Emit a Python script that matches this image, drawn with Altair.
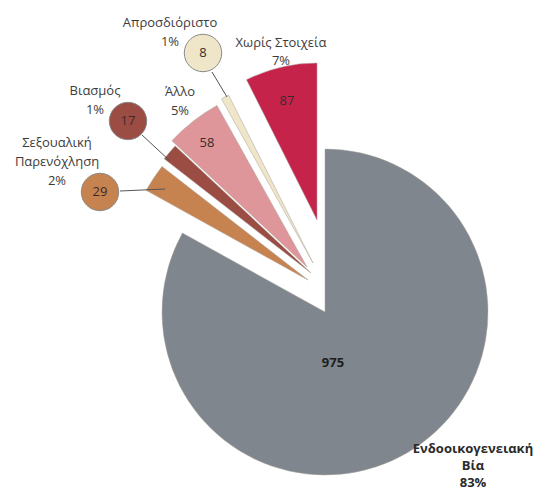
import math
import altair as alt
import pandas as pd

# ---------------- data ----------------
categories = ["Ενδοοικογενειακή Βία", "Σεξουαλική Παρενόχληση", "Βιασμός",
              "Άλλο", "Απροσδιόριστο", "Χωρίς Στοιχεία"]
counts = [975, 29, 17, 58, 8, 87]
label_names = ["Ενδοοικογενειακή\nΒία", "Σεξουαλική\nΠαρενόχληση", "Βιασμός",
               "Άλλο", "Απροσδιόριστο", "Χωρίς Στοιχεία"]

# ---------------- style / layout ----------------
colors = ["#7f868d", "#c6834f", "#9b4d43", "#df969b", "#efe5c8", "#c6234b"]
OFF = 8  # page margin
# exploded slice apex (page px) and radius per slice
tip_x = [325, 308, 311, 307, 313, 317]
tip_y = [312, 280, 273, 267, 263, 220]
radii = [163, 185, 186, 185, 188, 157]
# category/percent label: centre x and first-line y (page px)
name_x = [473, 57, 95, 180, 170, 281]
name_y = [449, 143, 91, 92, 23, 43]
# value label positions (page px); bubbles for small slices
value_x = [333, 100, 128, 207, 203, 287]
value_y = [363, 192, 121, 143, 53, 101]
bubble = [False, True, True, False, True, False]
lead_x1 = [None, 120, 142, None, 212, None]
lead_y1 = [None, 191, 135, None, 72, None]
lead_x2 = [None, 165, 170, None, 227, None]
lead_y2 = [None, 189, 161, None, 97, None]

total = sum(counts)
rows = []
acc = 0
for i, c in enumerate(categories):
    rows.append({
        "category": c,
        "count": counts[i],
        "start": acc,
        "end": acc + counts[i],
        "cx": tip_x[i] - OFF,
        "cy": tip_y[i] - OFF,
        "r": radii[i],
        "name": label_names[i] + "\n" + f"{round(counts[i] / total * 100)}%",
        "nx": name_x[i] - OFF,
        "ny": name_y[i] - OFF,
        "vx": value_x[i] - OFF,
        "vy": value_y[i] - OFF,
        "bubble": bubble[i],
        "bold": i == 0,
    })
    acc += counts[i]
df = pd.DataFrame(rows)

lead_rows = []
for i, c in enumerate(categories):
    if bubble[i]:
        lead_rows.append({"category": c, "x1": lead_x1[i] - OFF, "y1": lead_y1[i] - OFF,
                          "x2": lead_x2[i] - OFF, "y2": lead_y2[i] - OFF})
lead_df = pd.DataFrame(lead_rows)

color_scale = alt.Scale(domain=categories, range=colors)
FONT = "Open Sans"

arcs = alt.Chart(df).mark_arc(stroke="#a8a39d", strokeWidth=0.5).encode(
    theta=alt.Theta("start:Q", scale=alt.Scale(domain=[0, total], range=[0, 2 * math.pi]), stack=None),
    theta2="end:Q",
    x=alt.X("cx:Q", scale=None, axis=None),
    y=alt.Y("cy:Q", scale=None, axis=None),
    radius=alt.Radius("r:Q", scale=None),
    color=alt.Color("category:N", scale=color_scale, legend=None),
)

leaders = alt.Chart(lead_df).mark_rule(color="#555555", strokeWidth=1).encode(
    x=alt.X("x1:Q", scale=None), y=alt.Y("y1:Q", scale=None),
    x2="x2:Q", y2="y2:Q",
)

bubbles = alt.Chart(df).transform_filter("datum.bubble").mark_circle(
    size=1400, opacity=1, stroke="#8a8a8a", strokeWidth=1
).encode(
    x=alt.X("vx:Q", scale=None), y=alt.Y("vy:Q", scale=None),
    color=alt.Color("category:N", scale=color_scale, legend=None),
)

values_normal = alt.Chart(df).transform_filter("!datum.bold").mark_text(
    font=FONT, fontSize=13, color="#3a2b2b", align="center", baseline="middle"
).encode(
    x=alt.X("vx:Q", scale=None), y=alt.Y("vy:Q", scale=None), text="count:Q"
)
values_bold = alt.Chart(df).transform_filter("datum.bold").mark_text(
    font=FONT, fontSize=13, fontWeight="bold", color="#1e1e1e", align="center", baseline="middle"
).encode(
    x=alt.X("vx:Q", scale=None), y=alt.Y("vy:Q", scale=None), text="count:Q"
)

names_normal = alt.Chart(df).transform_filter("!datum.bold && datum.count != 87").mark_text(
    font=FONT, fontSize=13, color="#3c3c3c", align="center", baseline="middle",
    lineBreak="\n", lineHeight=19
).encode(
    x=alt.X("nx:Q", scale=None), y=alt.Y("ny:Q", scale=None), text="name:N"
)
names_tight = alt.Chart(df).transform_filter("datum.count == 87").mark_text(
    font=FONT, fontSize=13, color="#3c3c3c", align="center", baseline="middle",
    lineBreak="\n", lineHeight=18
).encode(
    x=alt.X("nx:Q", scale=None), y=alt.Y("ny:Q", scale=None), text="name:N"
)
names_bold = alt.Chart(df).transform_filter("datum.bold").mark_text(
    font=FONT, fontSize=13, fontWeight="bold", color="#2a2a2a", align="center", baseline="middle",
    lineBreak="\n", lineHeight=17
).encode(
    x=alt.X("nx:Q", scale=None), y=alt.Y("ny:Q", scale=None), text="name:N"
)

chart = alt.layer(
    arcs, leaders, bubbles, values_normal, values_bold, names_normal, names_tight, names_bold
).properties(
    width=527, height=487, autosize="none", padding=0
).configure_view(stroke=None)

chart.save("out.html", embed_options={"renderer": "svg", "actions": False})
